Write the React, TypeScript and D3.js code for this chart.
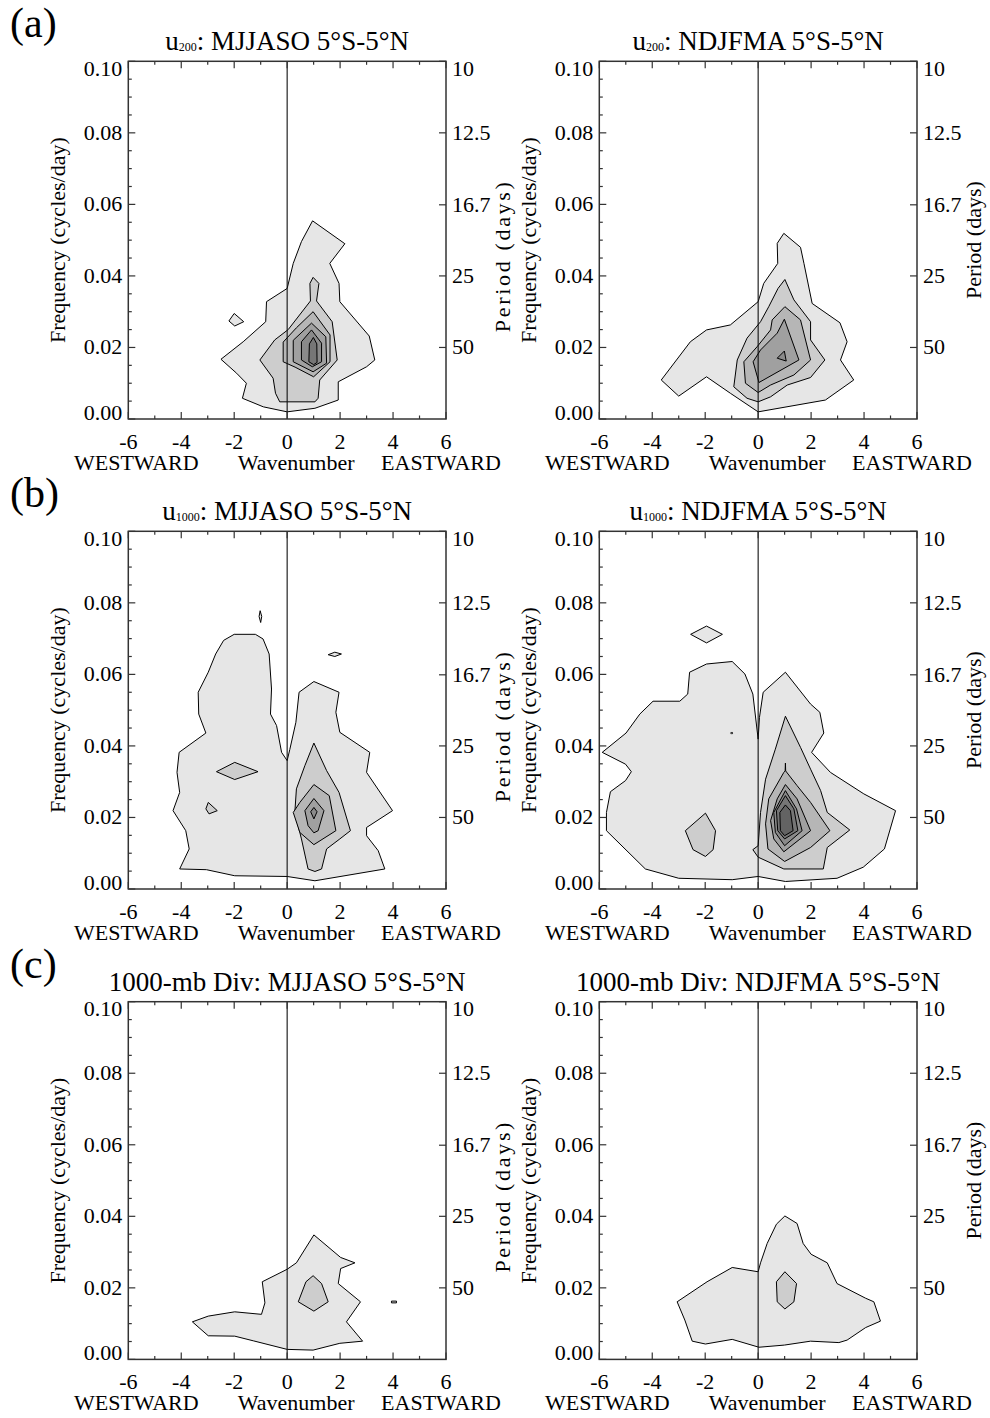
import React from "react";
import * as d3 from "d3";

// ---------- axis / tick data ----------
const X_TICKS = [-6, -4, -2, 0, 2, 4, 6];
const X_MINOR = [-5, -3, -1, 1, 3, 5];
const Y_TICKS = [0, 0.02, 0.04, 0.06, 0.08, 0.1];
const Y_TICK_LABELS = ["0.00", "0.02", "0.04", "0.06", "0.08", "0.10"];
const PERIOD_TICKS = [10, 12.5, 16.7, 25, 50];
const PERIOD_LABELS = ["10", "12.5", "16.7", "25", "50"];
const LEVEL_COLORS = ["#e6e6e6", "#cdcdcd", "#b6b6b6", "#a0a0a0", "#8a8a8a", "#767676", "#636363"];

type P = [number, number];

// ---------- (a) u200 MJJASO ----------
const A1_L1: P[] = [[0.96,0.0554],[2.18,0.049],[1.61,0.0435],[1.96,0.0379],[1.99,0.0328],[3.1,0.0232],[3.31,0.0165],[3.0,0.0146],[1.93,0.0104],[1.93,0.0053],[1.05,0.003],[0.0,0.002],[-0.9,0.0034],[-1.69,0.0058],[-1.54,0.01],[-1.91,0.0128],[-2.5,0.0167],[-1.66,0.0216],[-0.81,0.0272],[-0.78,0.0328],[0.0,0.0365],[0.23,0.0435],[0.54,0.0496]];
const A1_L1B: P[] = [[-2.0,0.0295],[-1.64,0.0272],[-1.98,0.026],[-2.2,0.0274]];
const A1_L2: P[] = [[0.98,0.0396],[1.2,0.0379],[1.11,0.033],[1.7,0.0272],[1.89,0.0165],[1.23,0.0109],[1.17,0.0058],[1.05,0.0048],[-0.28,0.0048],[-0.44,0.0072],[-0.53,0.0114],[-1.03,0.0165],[-0.47,0.0221],[0.04,0.025],[0.88,0.033],[0.86,0.0379]];
const A1_L3: P[] = [[0.98,0.03],[1.62,0.0235],[1.62,0.016],[1.0,0.0118],[0.3,0.0145],[-0.15,0.016],[-0.15,0.0215],[0.35,0.0255]];
const A1_L4: P[] = [[0.92,0.0268],[1.46,0.023],[1.49,0.0156],[0.98,0.0132],[0.23,0.016],[0.23,0.022]];
const A1_L5: P[] = [[0.92,0.0249],[1.3,0.0212],[1.3,0.016],[0.95,0.0146],[0.54,0.0165],[0.54,0.0216]];
const A1_L6: P[] = [[0.99,0.0228],[1.12,0.021],[1.13,0.0158],[1.0,0.0152],[0.82,0.016],[0.84,0.021]];

// ---------- (a) u200 NDJFMA ----------
const A2_L1: P[] = [[0.97,0.0519],[1.6,0.048],[1.73,0.0435],[2.04,0.0323],[3.09,0.0269],[3.36,0.0216],[3.11,0.0165],[3.61,0.0109],[2.54,0.0053],[0.0,0.002],[-1.05,0.0072],[-1.95,0.0118],[-3.0,0.0064],[-3.66,0.0109],[-2.56,0.0216],[-1.95,0.0249],[-1.05,0.0263],[0.0,0.0328],[0.21,0.0379],[0.74,0.0435],[0.72,0.0491]];
const A2_L2: P[] = [[1.01,0.039],[1.35,0.0333],[1.98,0.0272],[1.98,0.0221],[2.52,0.0165],[1.98,0.0116],[1.1,0.0095],[0.47,0.0062],[0.0,0.0048],[-0.42,0.0058],[-0.92,0.009],[-0.79,0.0165],[-0.42,0.0226],[0.09,0.0272],[0.4,0.0314],[0.75,0.0365]];
const A2_L3: P[] = [[1.01,0.0314],[1.6,0.0277],[1.98,0.0165],[1.35,0.0123],[0.47,0.0095],[0.0,0.0074],[-0.48,0.01],[-0.54,0.016],[-0.04,0.0202],[0.47,0.0249],[0.53,0.0277]];
const A2_L4: P[] = [[0.99,0.0279],[1.54,0.0165],[0.03,0.0102],[-0.19,0.016],[0.09,0.0193],[0.72,0.024]];
const A2_L5: P[] = [[0.99,0.019],[1.06,0.0162],[0.72,0.017]];

// ---------- (b) u1000 MJJASO ----------
const B1_L1: P[] = [[0,0.0359],[-0.21,0.0382],[-0.4,0.0457],[-0.63,0.0489],[-0.59,0.0559],[-0.68,0.0657],[-0.91,0.0699],[-1.2,0.0712],[-2.0,0.0712],[-2.4,0.0695],[-2.7,0.0657],[-2.98,0.0606],[-3.36,0.055],[-3.34,0.0489],[-3.07,0.0436],[-4.08,0.0382],[-4.16,0.0326],[-4.06,0.027],[-4.31,0.0219],[-3.83,0.0163],[-3.7,0.0112],[-4.06,0.0056],[-3.05,0.0054],[-1.98,0.0037],[0,0.0035],[1.05,0.0023],[3.69,0.0056],[3.44,0.0107],[3.0,0.0149],[3.0,0.0172],[3.98,0.0219],[3.0,0.0326],[3.12,0.0382],[1.99,0.0438],[1.84,0.0494],[1.96,0.055],[1.01,0.058],[0.45,0.055],[0.33,0.0466],[0.1,0.039]];
const B1_S1: P[] = [[-1.02,0.0778],[-0.96,0.0762],[-1.0,0.0745],[-1.06,0.0762]];
const B1_S2: P[] = [[1.55,0.0655],[1.8,0.0662],[2.05,0.0657],[1.8,0.065]];
const B1_L2A: P[] = [[-2.67,0.0328],[-1.98,0.0354],[-1.1,0.0328],[-1.98,0.0306]];
const B1_L2B: P[] = [[-2.98,0.0242],[-2.64,0.0219],[-2.95,0.021],[-3.07,0.0224]];
const B1_L2: P[] = [[1.01,0.0408],[1.49,0.0331],[1.96,0.027],[2.39,0.0163],[1.99,0.014],[1.49,0.0112],[1.3,0.0056],[1.05,0.0049],[0.79,0.0056],[0.54,0.014],[0.29,0.0214],[0.35,0.028],[0.67,0.0345]];
const B1_L3: P[] = [[1.01,0.0292],[1.59,0.0261],[1.84,0.0163],[1.01,0.0124],[0.48,0.0158],[0.23,0.0214],[0.48,0.0242]];
const B1_L4: P[] = [[1.01,0.0253],[1.39,0.0219],[1.17,0.0163],[1.01,0.0157],[0.79,0.0177],[0.67,0.0219]];
const B1_L5: P[] = [[1.01,0.0228],[1.13,0.0216],[1.01,0.0196],[0.89,0.0216]];

// ---------- (b) u1000 NDJFMA ----------
const B2_L1: P[] = [[0,0.0419],[-0.2,0.0545],[-0.5,0.0601],[-0.98,0.0636],[-1.95,0.0629],[-2.59,0.0606],[-2.66,0.0545],[-2.96,0.0525],[-3.97,0.0525],[-4.47,0.0489],[-4.99,0.0436],[-5.89,0.0382],[-5.01,0.0349],[-4.79,0.0328],[-5.01,0.0303],[-5.58,0.0272],[-5.73,0.0214],[-5.73,0.0163],[-4.26,0.0056],[-3.0,0.003],[-0.98,0.0026],[0,0.0035],[1.03,0.0021],[2.98,0.003],[3.97,0.0061],[4.77,0.0112],[5.19,0.0219],[3.99,0.0266],[2.73,0.0326],[2.02,0.0382],[2.48,0.0436],[2.33,0.0494],[1.98,0.0517],[1.03,0.0606],[0.19,0.055],[0.05,0.048]];
const B2_L1B: P[] = [[-2.55,0.0712],[-1.95,0.0735],[-1.35,0.0712],[-1.95,0.0688]];
const B2_DOT: P[] = [[-1.0,0.0439],[-0.96,0.0436],[-1.0,0.0433],[-1.04,0.0436]];
const B2_L2A: P[] = [[-2.75,0.0163],[-1.99,0.0212],[-1.61,0.0163],[-1.7,0.011],[-1.99,0.0091],[-2.46,0.011]];
const B2_L2: P[] = [[1.03,0.0483],[1.6,0.0396],[1.98,0.0335],[2.36,0.0275],[2.61,0.0214],[3.46,0.0165],[2.61,0.0116],[2.46,0.0056],[0.97,0.0056],[0,0.0089],[-0.2,0.011],[0,0.0121],[0.09,0.0214],[0.28,0.0307],[0.65,0.0391]];
const B2_L3: P[] = [[1.02,0.033],[1.03,0.0352],[1.04,0.033],[1.47,0.0289],[1.98,0.0242],[2.71,0.0163],[1.98,0.0116],[1.0,0.0077],[0.37,0.0112],[0.28,0.0182],[0.4,0.0252],[0.97,0.0326]];
const B2_L4: P[] = [[1.03,0.0292],[1.47,0.0252],[1.98,0.0163],[0.97,0.0104],[0.59,0.014],[0.47,0.0191],[0.72,0.0252]];
const B2_L5: P[] = [[1.03,0.0275],[1.45,0.0224],[1.66,0.0163],[1.0,0.0121],[0.65,0.0158],[0.59,0.0214]];
const B2_L6: P[] = [[1.03,0.0261],[1.35,0.0224],[1.5,0.0163],[1.0,0.014],[0.74,0.0163],[0.69,0.0219]];
const B2_L7: P[] = [[1.03,0.0235],[1.22,0.0219],[1.32,0.0163],[1.0,0.0149],[0.84,0.0163],[0.82,0.0214]];

// ---------- (c) 1000-mb Div MJJASO ----------
const C1_L1: P[] = [[1.01,0.0348],[2.02,0.0285],[2.56,0.027],[2.02,0.0254],[1.93,0.0212],[2.77,0.0161],[2.24,0.0105],[2.85,0.0051],[1.99,0.0045],[0.98,0.0026],[0,0.0028],[-1.28,0.0052],[-1.98,0.0065],[-2.98,0.0066],[-3.58,0.0105],[-2.98,0.0121],[-1.98,0.0133],[-0.97,0.0126],[-0.84,0.0158],[-0.94,0.0217],[0,0.0252],[0.35,0.027]];
const C1_L2: P[] = [[0.98,0.0234],[1.3,0.0212],[1.55,0.0161],[1.01,0.0135],[0.42,0.0161],[0.71,0.0217]];
const C1_DASH: P[] = [[3.94,0.0163],[4.13,0.0163],[4.13,0.0158],[3.94,0.0158]];

// ---------- (c) 1000-mb Div NDJFMA ----------
const C2_L1: P[] = [[1.01,0.0401],[1.47,0.038],[1.7,0.0324],[2.0,0.0294],[2.61,0.027],[2.98,0.0212],[4.06,0.0171],[4.37,0.0161],[4.62,0.0107],[4.06,0.0089],[3.36,0.0054],[3.05,0.0047],[1.98,0.0051],[0.99,0.004],[0.03,0.0034],[-0.98,0.0056],[-1.99,0.0043],[-2.49,0.0051],[-2.77,0.011],[-3.06,0.0161],[-1.93,0.0217],[-0.98,0.0257],[0,0.0245],[0.09,0.027],[0.34,0.0324],[0.69,0.0378]];
const C2_L2: P[] = [[1.01,0.0245],[1.45,0.0212],[1.35,0.0161],[1.01,0.0141],[0.72,0.0161],[0.69,0.0217]];

type Contour = { level: number; pts: P[] };

const FONT = "'Liberation Serif', 'Times New Roman', Times, serif";
const PLOT_W = 317.7;
const PLOT_H = 357.7;
const COL_X = [128.3, 599.3];
const ROW_Y = [61.3, 531.3, 1001.7];

function Title({ cx, y, sub, prefix, season }: { cx: number; y: number; sub?: string; prefix?: string; season: string }) {
  return (
    <text x={cx} y={y} textAnchor="middle" fontFamily={FONT} fontSize={27} fill="#000">
      {sub ? (
        <>
          <tspan>u</tspan>
          <tspan fontSize={12} dy={1}>{sub}</tspan>
          <tspan dy={-1}>{`: ${season} 5°S-5°N`}</tspan>
        </>
      ) : (
        <tspan>{`${prefix}: ${season} 5°S-5°N`}</tspan>
      )}
    </text>
  );
}

function Panel({ x0, y0, col, contours, title }: { x0: number; y0: number; col: number; contours: Contour[]; title: React.ReactNode }) {
  const xs = d3.scaleLinear().domain([-6, 6]).range([x0, x0 + PLOT_W]);
  const ys = d3.scaleLinear().domain([0, 0.1]).range([y0 + PLOT_H, y0]);
  const line = d3.line<P>().x((d) => xs(d[0])).y((d) => ys(d[1]));
  const yMinor = d3.range(0, 0.1001, 0.005).filter((v) => Math.abs(v / 0.02 - Math.round(v / 0.02)) > 1e-6);
  const sorted = [...contours].sort((a, b) => a.level - b.level);
  const bottom = y0 + PLOT_H;
  const right = x0 + PLOT_W;
  const midY = y0 + PLOT_H / 2;
  const labelDy = (i: number, n: number) => (i === 0 ? 1 : i === n - 1 ? 14.5 : 7);
  const periodProps = col === 0 ? { textLength: 150, lengthAdjust: "spacing" } : {};
  const periodY = col === 0 ? midY + 17 : midY;
  return (
    <g>
      {title}
      {sorted.map((c, i) => (
        <path key={i} d={line(c.pts) + "Z"} fill={LEVEL_COLORS[c.level - 1]} stroke="#000" strokeWidth={1} strokeLinejoin="miter" />
      ))}
      <line x1={xs(0)} x2={xs(0)} y1={y0} y2={bottom} stroke="#111" strokeWidth={1.1} />
      <rect x={x0} y={y0} width={PLOT_W} height={PLOT_H} fill="none" stroke="#333" strokeWidth={1.5} />
      {X_TICKS.map((t) => (
        <g key={"xt" + t}>
          <line x1={xs(t)} x2={xs(t)} y1={bottom} y2={bottom - 7} stroke="#333" strokeWidth={1.2} />
          <line x1={xs(t)} x2={xs(t)} y1={y0} y2={y0 + 7} stroke="#333" strokeWidth={1.2} />
          <text x={xs(t)} y={bottom + 30} textAnchor="middle" fontFamily={FONT} fontSize={22}>{t}</text>
        </g>
      ))}
      {X_MINOR.map((t) => (
        <g key={"xm" + t}>
          <line x1={xs(t)} x2={xs(t)} y1={bottom} y2={bottom - 3.5} stroke="#333" strokeWidth={1.2} />
          <line x1={xs(t)} x2={xs(t)} y1={y0} y2={y0 + 3.5} stroke="#333" strokeWidth={1.2} />
        </g>
      ))}
      {Y_TICKS.map((t, i) => (
        <g key={"yt" + i}>
          <line x1={x0} x2={x0 + 7} y1={ys(t)} y2={ys(t)} stroke="#333" strokeWidth={1.2} />
          <text x={x0 - 6} y={ys(t) + labelDy(i, Y_TICKS.length)} textAnchor="end" fontFamily={FONT} fontSize={22}>{Y_TICK_LABELS[i]}</text>
        </g>
      ))}
      {yMinor.map((t, i) => (
        <line key={"ym" + i} x1={x0} x2={x0 + 3.5} y1={ys(t)} y2={ys(t)} stroke="#333" strokeWidth={1.2} />
      ))}
      {PERIOD_TICKS.map((p, i) => (
        <g key={"pt" + i}>
          <line x1={right} x2={right - 7} y1={ys(1 / p)} y2={ys(1 / p)} stroke="#333" strokeWidth={1.2} />
          <text x={right + 6} y={ys(1 / p) + (i === 0 ? 14.5 : 7)} textAnchor="start" fontFamily={FONT} fontSize={22}>{PERIOD_LABELS[i]}</text>
        </g>
      ))}
      <text x={x0 + 8} y={bottom + 51} textAnchor="middle" fontFamily={FONT} fontSize={22}>WESTWARD</text>
      <text x={x0 + PLOT_W / 2 + 9} y={bottom + 51} textAnchor="middle" fontFamily={FONT} fontSize={22}>Wavenumber</text>
      <text x={right - 5} y={bottom + 51} textAnchor="middle" fontFamily={FONT} fontSize={22}>EASTWARD</text>
      <text transform={`translate(${x0 - 63},${midY}) rotate(-90)`} textAnchor="middle" fontFamily={FONT} fontSize={22}>Frequency (cycles/day)</text>
      <text transform={`translate(${right + 64},${periodY}) rotate(-90)`} textAnchor="middle" fontFamily={FONT} fontSize={22} {...(periodProps as any)}>Period (days)</text>
    </g>
  );
}

const PANELS = [
  { row: 0, col: 0, sub: "200", season: "MJJASO", contours: [{ level: 1, pts: A1_L1 }, { level: 1, pts: A1_L1B }, { level: 2, pts: A1_L2 }, { level: 3, pts: A1_L3 }, { level: 4, pts: A1_L4 }, { level: 5, pts: A1_L5 }, { level: 6, pts: A1_L6 }] },
  { row: 0, col: 1, sub: "200", season: "NDJFMA", contours: [{ level: 1, pts: A2_L1 }, { level: 2, pts: A2_L2 }, { level: 3, pts: A2_L3 }, { level: 4, pts: A2_L4 }, { level: 5, pts: A2_L5 }] },
  { row: 1, col: 0, sub: "1000", season: "MJJASO", contours: [{ level: 1, pts: B1_L1 }, { level: 1, pts: B1_S1 }, { level: 1, pts: B1_S2 }, { level: 2, pts: B1_L2A }, { level: 2, pts: B1_L2B }, { level: 2, pts: B1_L2 }, { level: 3, pts: B1_L3 }, { level: 4, pts: B1_L4 }, { level: 5, pts: B1_L5 }] },
  { row: 1, col: 1, sub: "1000", season: "NDJFMA", contours: [{ level: 1, pts: B2_L1 }, { level: 1, pts: B2_L1B }, { level: 1, pts: B2_DOT }, { level: 2, pts: B2_L2A }, { level: 2, pts: B2_L2 }, { level: 3, pts: B2_L3 }, { level: 4, pts: B2_L4 }, { level: 5, pts: B2_L5 }, { level: 6, pts: B2_L6 }, { level: 7, pts: B2_L7 }] },
  { row: 2, col: 0, prefix: "1000-mb Div", season: "MJJASO", contours: [{ level: 1, pts: C1_L1 }, { level: 2, pts: C1_L2 }, { level: 1, pts: C1_DASH }] },
  { row: 2, col: 1, prefix: "1000-mb Div", season: "NDJFMA", contours: [{ level: 1, pts: C2_L1 }, { level: 2, pts: C2_L2 }] },
];

const ROW_LABELS = ["(a)", "(b)", "(c)"];

export default function App() {
  return (
    <svg width={990} height={1418} viewBox="0 0 990 1418" style={{ position: "absolute", left: 0, top: 0, background: "#fff" }}>
      <rect x={0} y={0} width={990} height={1418} fill="#fff" />
      {ROW_LABELS.map((l, i) => (
        <text key={l} x={10} y={ROW_Y[i] - 24} fontFamily={FONT} fontSize={42}>{l}</text>
      ))}
      {PANELS.map((p, i) => {
        const x0 = COL_X[p.col];
        const y0 = ROW_Y[p.row];
        return (
          <Panel
            key={i}
            x0={x0}
            y0={y0}
            col={p.col}
            contours={p.contours}
            title={<Title cx={x0 + PLOT_W / 2} y={y0 - 11} sub={(p as any).sub} prefix={(p as any).prefix} season={p.season} />}
          />
        );
      })}
    </svg>
  );
}
